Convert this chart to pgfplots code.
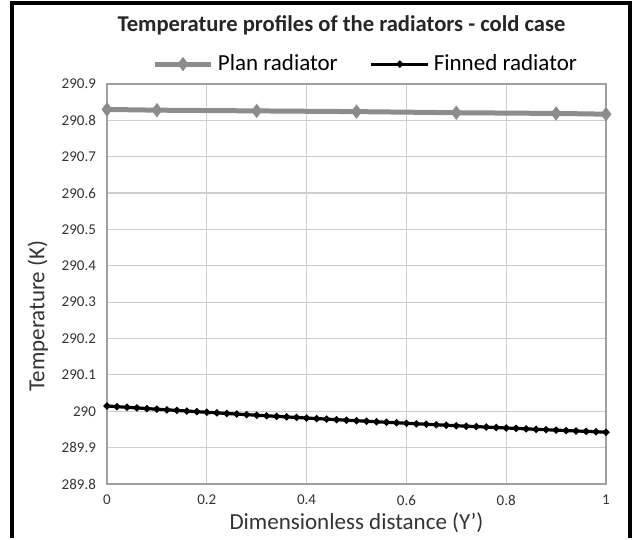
\documentclass[border=0pt]{standalone}
\usepackage{pgfplots}
\pgfplotsset{compat=1.18}
\usepackage{fontspec}
\setmainfont{Carlito}
\definecolor{plangray}{RGB}{140,140,140}
\definecolor{gridgray}{RGB}{205,205,205}
\definecolor{axisgray}{RGB}{160,160,160}

\begin{document}
\begin{tikzpicture}
\begin{axis}[
    name=ax,
    scale only axis,
    width=249.5pt, height=200pt,
    xmin=0, xmax=1, ymin=289.8, ymax=290.9,
    xtick={0,0.2,0.4,0.6,0.8,1},
    ytick={289.8,289.9,290,290.1,290.2,290.3,290.4,290.5,290.6,290.7,290.8,290.9},
    yticklabels={289.8,289.9,290,290.1,290.2,290.3,290.4,290.5,290.6,290.7,290.8,290.9},
    xticklabels={0,0.2,0.4,0.6,0.8,1},
    grid=major,
    major grid style={gridgray, line width=0.6pt},
    axis line style={axisgray, line width=0.6pt},
    tick style={draw=none},
    tick label style={font=\fontsize{7.5}{8}\selectfont, text=black!80},
    xticklabel style={yshift=-2pt},
    yticklabel style={xshift=-2pt},
    xlabel={Dimensionless distance (Y')},
    ylabel={Temperature (K)},
    label style={font=\fontsize{11.5}{13}\selectfont, text=black!80},
    xlabel style={yshift=3pt},
    ylabel style={xshift=-16pt},
    title={\textbf{Temperature profiles of the radiators - cold case}},
    title style={font=\fontsize{11.3}{13}\selectfont, at={(0.47,1)}, anchor=south, yshift=15pt, text=black!85},
    legend style={at={(0.52,1.005)}, anchor=south, draw=none, fill=none,
        legend columns=2, font=\fontsize{11.5}{13}\selectfont,
        /tikz/every even column/.append style={column sep=14pt}},
    legend image code/.code={
        \draw[#1] (0cm,0cm) -- (1cm,0cm);
        \draw[#1, mark repeat=1] plot coordinates {(0.5cm,0cm)};
    },
    clip=false,
]
\addplot[plangray, line width=2.5pt, mark=diamond*, mark size=3.2pt,
    mark options={fill=plangray, draw=plangray, line width=0.5pt}]
coordinates {
    (0,290.830) (0.1,290.828) (0.3,290.826) (0.5,290.824)
    (0.7,290.821) (0.9,290.819) (1,290.817)
};
\addlegendentry{Plan radiator}
\addplot[black, line width=1.6pt, mark=*, mark size=0.8pt]
coordinates {
    (0,290.0145) (0.02,290.0127) (0.04,290.0109) (0.06,290.0092) (0.08,290.0074)
    (0.10,290.0057) (0.12,290.0040) (0.14,290.0023) (0.16,290.0006) (0.18,289.9989)
    (0.20,289.9972) (0.22,289.9956) (0.24,289.9939) (0.26,289.9923) (0.28,289.9907)
    (0.30,289.9891) (0.32,289.9875) (0.34,289.9860) (0.36,289.9844) (0.38,289.9829)
    (0.40,289.9814) (0.42,289.9799) (0.44,289.9784) (0.46,289.9769) (0.48,289.9754)
    (0.50,289.9740) (0.52,289.9726) (0.54,289.9711) (0.56,289.9697) (0.58,289.9684)
    (0.60,289.9670) (0.62,289.9656) (0.64,289.9643) (0.66,289.9629) (0.68,289.9616)
    (0.70,289.9603) (0.72,289.9590) (0.74,289.9578) (0.76,289.9565) (0.78,289.9553)
    (0.80,289.9540) (0.82,289.9528) (0.84,289.9516) (0.86,289.9504) (0.88,289.9492)
    (0.90,289.9481) (0.92,289.9469) (0.94,289.9458) (0.96,289.9447) (0.98,289.9436)
    (1.00,289.9425)
};
\addlegendentry{Finned radiator}
\end{axis}
% outer frame (bottom edge cut off in the reference)
\draw[black, line width=1.6pt] (-47.5pt,-27pt) -- (-47.5pt,240.5pt) -- (261.5pt,240.5pt) -- (261.5pt,-27pt);
\path[use as bounding box] (-53.5pt,-26.5pt) rectangle (263.5pt,242pt);
\end{tikzpicture}
\end{document}
